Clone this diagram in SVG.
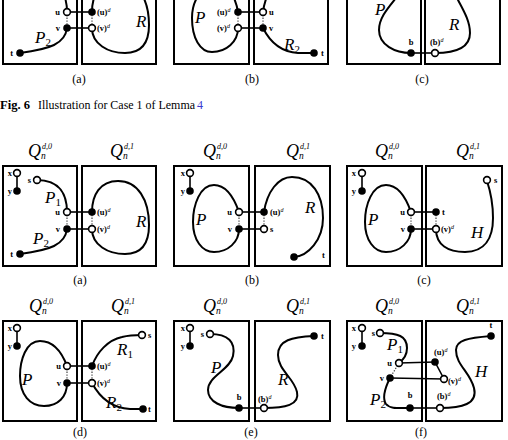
<svg xmlns="http://www.w3.org/2000/svg" width="508" height="440" viewBox="0 0 508 440">
<style>
.box{fill:none;stroke:#000;stroke-width:2}
.cv{fill:none;stroke:#000;stroke-width:2}
.ed{stroke:#000;stroke-width:1.6;fill:none}
.dt{stroke:#444;stroke-width:1.2;stroke-dasharray:1.4 1.4;fill:none}
.on{fill:#000}
.off{fill:#fff;stroke:#000;stroke-width:1.6}
.lb{font-family:"Liberation Serif",serif;font-weight:bold;font-size:8.5px;fill:#000}
.sp{font-family:"Liberation Serif",serif;font-style:italic;font-weight:normal;font-size:6px}
.big{font-family:"Liberation Serif",serif;font-style:italic;font-size:17px;fill:#000}
.sub{font-family:"Liberation Serif",serif;font-style:normal;font-size:11px}
.q{font-family:"Liberation Serif",serif;font-style:italic;font-size:18px;fill:#000}
.qs{font-family:"Liberation Serif",serif;font-style:italic;font-size:8px;fill:#000}
.qn{font-family:"Liberation Serif",serif;font-style:italic;font-size:9.5px;fill:#000}
.cap{font-family:"Liberation Serif",serif;font-size:12px;fill:#000;text-anchor:middle}
.fig{font-family:"Liberation Serif",serif;font-size:12px;fill:#000}
</style>
<defs>
<circle id="cOn" r="3.8" class="on"/>
<circle id="cOff" r="3.4" class="off"/>
</defs>

<!-- ===== Boxes ===== -->
<g id="boxes">
<rect class="box" x="3" y="-36" width="74" height="100"/>
<rect class="box" x="82" y="-36" width="74" height="100"/>
<rect class="box" x="174" y="-36" width="75" height="100"/>
<rect class="box" x="254" y="-36" width="74" height="100"/>
<rect class="box" x="347" y="-36" width="74" height="100"/>
<rect class="box" x="425" y="-36" width="75" height="100"/>

<rect class="box" x="3" y="166" width="74" height="100"/>
<rect class="box" x="82" y="166" width="74" height="100"/>
<rect class="box" x="174" y="166" width="75" height="100"/>
<rect class="box" x="255" y="166" width="75" height="100"/>
<rect class="box" x="347" y="166" width="75" height="100"/>
<rect class="box" x="426" y="166" width="76" height="100"/>

<rect class="box" x="3" y="321" width="74" height="100"/>
<rect class="box" x="82" y="321" width="74" height="100"/>
<rect class="box" x="174" y="321" width="75" height="100"/>
<rect class="box" x="255" y="321" width="75" height="100"/>
<rect class="box" x="347" y="321" width="75" height="100"/>
<rect class="box" x="426" y="321" width="76" height="100"/>
</g>

<!-- ===== Connectors ===== -->
<g id="connectors">
<!-- top (a) -->
<path class="cv" d="M37,-20 C60,-20 67,-5 67,12"/>
<path class="cv" d="M67,28 C65,44 50,49 20,53"/>
<path class="cv" d="M92,12 C92,-5 100,-20 118,-20 C138,-20 149,0 149,25 C149,45 140,53 125,53 C108,53 92,44 92,28"/>
<line class="ed" x1="67" y1="12" x2="92" y2="12"/>
<line class="ed" x1="67" y1="28" x2="92" y2="28"/>
<line class="dt" x1="67" y1="12" x2="67" y2="28"/>
<line class="dt" x1="92" y1="12" x2="92" y2="28"/>
<!-- top (b) -->
<path class="cv" d="M238,12 C236,0 230,-15 218,-15 C202,-15 192,0 192,18 C192,38 200,52 212,52 C226,52 238,42 238,28"/>
<path class="cv" d="M263,12 C264,4 266,-2 269,-8"/>
<path class="cv" d="M263,28 C270,42 282,52 298,53 L314,53"/>
<line class="ed" x1="238" y1="12" x2="263" y2="12"/>
<line class="ed" x1="238" y1="28" x2="263" y2="28"/>
<line class="dt" x1="238" y1="12" x2="238" y2="28"/>
<line class="dt" x1="263" y1="12" x2="263" y2="28"/>
<!-- top (c) -->
<path class="cv" d="M411,53 C395,53 379,45 379,30 C379,18 388,8 396,-2"/>
<path class="cv" d="M435,53 C455,53 470,48 470,33 C470,20 462,8 457,-2"/>
<line class="ed" x1="411" y1="53" x2="435" y2="53"/>

<!-- middle (a) -->
<line class="ed" x1="17" y1="173" x2="17" y2="191"/>
<path class="cv" d="M37,180 C60,180 67,195 67,212"/>
<path class="cv" d="M67,229 C65,245 50,250 20,254"/>
<path class="cv" d="M92,212 C92,195 100,181 118,181 C138,181 149,200 149,225 C149,245 140,254 125,254 C108,254 92,245 92,229"/>
<line class="ed" x1="67" y1="212" x2="92" y2="212"/>
<line class="ed" x1="67" y1="229" x2="92" y2="229"/>
<line class="dt" x1="67" y1="212" x2="67" y2="229"/>
<line class="dt" x1="92" y1="212" x2="92" y2="229"/>
<!-- middle (b) -->
<line class="ed" x1="190" y1="173" x2="190" y2="191"/>
<path class="cv" d="M239,212 C233,195 225,185 214,185 C200,185 193,205 193,222 C193,240 202,252 214,252 C228,252 239,242 239,229"/>
<path class="cv" d="M264,212 C267,192 278,177 292,177 C312,177 323,195 323,218 C323,240 308,256 294,257"/>
<line class="ed" x1="239" y1="212" x2="264" y2="212"/>
<line class="ed" x1="239" y1="229" x2="264" y2="229"/>
<line class="dt" x1="239" y1="212" x2="239" y2="229"/>
<line class="dt" x1="264" y1="212" x2="264" y2="229"/>
<!-- middle (c) -->
<line class="ed" x1="362" y1="173" x2="362" y2="191"/>
<path class="cv" d="M411,212 C405,195 397,185 386,185 C372,185 365,205 365,222 C365,240 374,252 386,252 C400,252 411,242 411,229"/>
<path class="cv" d="M436,229 C436,245 448,252 465,252 C485,252 493,238 493,218 C493,200 490,190 487,181"/>
<line class="ed" x1="411" y1="212" x2="436" y2="212"/>
<line class="ed" x1="411" y1="229" x2="436" y2="229"/>
<line class="dt" x1="411" y1="212" x2="411" y2="229"/>
<line class="dt" x1="436" y1="212" x2="436" y2="229"/>

<!-- bottom (d) -->
<line class="ed" x1="17" y1="328" x2="17" y2="346"/>
<path class="cv" d="M67,366 C61,350 52,341 40,341 C26,341 20,360 20,376 C20,395 30,406 44,406 C58,406 67,397 67,383"/>
<path class="cv" d="M92,366 C97,352 108,340 122,337 C130,335 136,335 142,335"/>
<path class="cv" d="M92,383 C100,398 112,408 130,409 L143,409"/>
<line class="ed" x1="67" y1="366" x2="92" y2="366"/>
<line class="ed" x1="67" y1="383" x2="92" y2="383"/>
<line class="dt" x1="67" y1="366" x2="67" y2="383"/>
<line class="dt" x1="92" y1="366" x2="92" y2="383"/>
<!-- bottom (e) -->
<line class="ed" x1="190" y1="328" x2="190" y2="346"/>
<path class="cv" d="M210,334 C228,334 236,342 233,356 C230,370 208,376 208,390 C208,402 222,408 239,408"/>
<path class="cv" d="M264,408 C285,408 300,405 297,392 C294,378 278,370 278,355 C278,340 292,337 314,336"/>
<line class="ed" x1="239" y1="408" x2="264" y2="408"/>
<!-- bottom (f) -->
<line class="ed" x1="362" y1="328" x2="362" y2="346"/>
<path class="cv" d="M380,333 C398,333 407,336 407,348 C407,355 403,360 399,363"/>
<path class="cv" d="M390,378 C385,388 382,398 386,404 C390,409 398,408 410,408"/>
<path class="cv" d="M440,408 C462,408 478,404 474,388 C470,372 456,365 456,350 C456,340 468,338 491,336"/>
<line class="ed" x1="399" y1="363" x2="435" y2="362"/>
<line class="ed" x1="435" y1="362" x2="444" y2="379"/>
<line class="ed" x1="390" y1="378" x2="444" y2="379"/>
<line class="ed" x1="410" y1="408" x2="440" y2="408"/>
<line class="dt" x1="399" y1="363" x2="390" y2="378"/>
</g>

<!-- ===== Nodes: top row ===== -->
<g id="ta-u"><use href="#cOff" x="67" y="12"/><text class="lb" x="60" y="15" text-anchor="end">u</text></g>
<g id="ta-v"><use href="#cOn" x="67" y="28"/><text class="lb" x="60" y="31" text-anchor="end">v</text></g>
<g id="ta-ud"><use href="#cOn" x="92" y="12"/><text class="lb" x="97" y="15">(u)<tspan class="sp" dy="-3">d</tspan></text></g>
<g id="ta-vd"><use href="#cOff" x="92" y="28"/><text class="lb" x="97" y="31">(v)<tspan class="sp" dy="-3">d</tspan></text></g>
<g id="ta-t"><use href="#cOn" x="20" y="53"/><text class="lb" x="13" y="56" text-anchor="end">t</text></g>

<g id="tb-ud"><use href="#cOn" x="238" y="12"/><text class="lb" x="217" y="15">(u)<tspan class="sp" dy="-3">d</tspan></text></g>
<g id="tb-vd"><use href="#cOff" x="238" y="28"/><text class="lb" x="217" y="31">(v)<tspan class="sp" dy="-3">d</tspan></text></g>
<g id="tb-u"><use href="#cOff" x="263" y="12"/><text class="lb" x="269" y="15">u</text></g>
<g id="tb-v"><use href="#cOn" x="263" y="28"/><text class="lb" x="269" y="31">v</text></g>
<g id="tb-t"><use href="#cOn" x="314" y="53"/><text class="lb" x="321" y="56">t</text></g>

<g id="tc-b"><use href="#cOn" x="411" y="53"/><text class="lb" x="411" y="45" text-anchor="middle">b</text></g>
<g id="tc-bd"><use href="#cOff" x="435" y="53"/><text class="lb" x="430" y="45">(b)<tspan class="sp" dy="-3">d</tspan></text></g>

<!-- ===== Nodes: middle (a) ===== -->
<g id="ma-x"><use href="#cOff" x="17" y="173"/><text class="lb" x="12" y="176" text-anchor="end">x</text></g>
<g id="ma-y"><use href="#cOn" x="17" y="191"/><text class="lb" x="12" y="194" text-anchor="end">y</text></g>
<g id="ma-s"><use href="#cOff" x="37" y="180"/><text class="lb" x="31" y="183" text-anchor="end">s</text></g>
<g id="ma-u"><use href="#cOff" x="67" y="212"/><text class="lb" x="60" y="215" text-anchor="end">u</text></g>
<g id="ma-v"><use href="#cOn" x="67" y="229"/><text class="lb" x="60" y="232" text-anchor="end">v</text></g>
<g id="ma-ud"><use href="#cOn" x="92" y="212"/><text class="lb" x="97" y="215">(u)<tspan class="sp" dy="-3">d</tspan></text></g>
<g id="ma-vd"><use href="#cOff" x="92" y="229"/><text class="lb" x="97" y="232">(v)<tspan class="sp" dy="-3">d</tspan></text></g>
<g id="ma-t"><use href="#cOn" x="20" y="254"/><text class="lb" x="13" y="257" text-anchor="end">t</text></g>

<!-- middle (b) -->
<g id="mb-x"><use href="#cOff" x="190" y="173"/><text class="lb" x="185" y="176" text-anchor="end">x</text></g>
<g id="mb-y"><use href="#cOn" x="190" y="191"/><text class="lb" x="185" y="194" text-anchor="end">y</text></g>
<g id="mb-u"><use href="#cOff" x="239" y="212"/><text class="lb" x="232" y="215" text-anchor="end">u</text></g>
<g id="mb-v"><use href="#cOn" x="239" y="229"/><text class="lb" x="232" y="232" text-anchor="end">v</text></g>
<g id="mb-ud"><use href="#cOn" x="264" y="212"/><text class="lb" x="270" y="215">(u)<tspan class="sp" dy="-3">d</tspan></text></g>
<g id="mb-s"><use href="#cOff" x="264" y="229"/><text class="lb" x="270" y="232">s</text></g>
<g id="mb-t"><use href="#cOn" x="294" y="257"/><text class="lb" x="322" y="258">t</text></g>

<!-- middle (c) -->
<g id="mc-x"><use href="#cOff" x="362" y="173"/><text class="lb" x="356" y="176" text-anchor="end">x</text></g>
<g id="mc-y"><use href="#cOn" x="362" y="191"/><text class="lb" x="356" y="194" text-anchor="end">y</text></g>
<g id="mc-u"><use href="#cOff" x="411" y="212"/><text class="lb" x="405" y="215" text-anchor="end">u</text></g>
<g id="mc-v"><use href="#cOn" x="411" y="229"/><text class="lb" x="405" y="232" text-anchor="end">v</text></g>
<g id="mc-t"><use href="#cOn" x="436" y="212"/><text class="lb" x="442" y="215">t</text></g>
<g id="mc-vd"><use href="#cOff" x="436" y="229"/><text class="lb" x="441" y="232">(v)<tspan class="sp" dy="-3">d</tspan></text></g>
<g id="mc-s"><use href="#cOff" x="487" y="180"/><text class="lb" x="494" y="183">s</text></g>

<!-- bottom (d) -->
<g id="bd-x"><use href="#cOff" x="17" y="328"/><text class="lb" x="12" y="331" text-anchor="end">x</text></g>
<g id="bd-y"><use href="#cOn" x="17" y="346"/><text class="lb" x="12" y="349" text-anchor="end">y</text></g>
<g id="bd-u"><use href="#cOff" x="67" y="366"/><text class="lb" x="61" y="369" text-anchor="end">u</text></g>
<g id="bd-v"><use href="#cOn" x="67" y="383"/><text class="lb" x="61" y="386" text-anchor="end">v</text></g>
<g id="bd-ud"><use href="#cOn" x="92" y="366"/><text class="lb" x="97" y="369">(u)<tspan class="sp" dy="-3">d</tspan></text></g>
<g id="bd-vd"><use href="#cOff" x="92" y="383"/><text class="lb" x="97" y="386">(v)<tspan class="sp" dy="-3">d</tspan></text></g>
<g id="bd-s"><use href="#cOff" x="142" y="335"/><text class="lb" x="148" y="338">s</text></g>
<g id="bd-t"><use href="#cOn" x="143" y="409"/><text class="lb" x="148" y="412">t</text></g>

<!-- bottom (e) -->
<g id="be-x"><use href="#cOff" x="190" y="328"/><text class="lb" x="185" y="331" text-anchor="end">x</text></g>
<g id="be-y"><use href="#cOn" x="190" y="346"/><text class="lb" x="185" y="349" text-anchor="end">y</text></g>
<g id="be-s"><use href="#cOff" x="210" y="334"/><text class="lb" x="204" y="337" text-anchor="end">s</text></g>
<g id="be-b"><use href="#cOn" x="239" y="408"/><text class="lb" x="239" y="400" text-anchor="middle">b</text></g>
<g id="be-bd"><use href="#cOff" x="264" y="408"/><text class="lb" x="258" y="402">(b)<tspan class="sp" dy="-3">d</tspan></text></g>
<g id="be-t"><use href="#cOn" x="314" y="336"/><text class="lb" x="321" y="339">t</text></g>

<!-- bottom (f) -->
<g id="bf-x"><use href="#cOff" x="362" y="328"/><text class="lb" x="356" y="331" text-anchor="end">x</text></g>
<g id="bf-y"><use href="#cOn" x="362" y="346"/><text class="lb" x="356" y="349" text-anchor="end">y</text></g>
<g id="bf-s"><use href="#cOff" x="380" y="333"/><text class="lb" x="375" y="336" text-anchor="end">s</text></g>
<g id="bf-u"><use href="#cOff" x="399" y="363"/><text class="lb" x="392" y="366" text-anchor="end">u</text></g>
<g id="bf-v"><use href="#cOn" x="390" y="378"/><text class="lb" x="384" y="381" text-anchor="end">v</text></g>
<g id="bf-b"><use href="#cOn" x="410" y="408"/><text class="lb" x="410" y="398" text-anchor="middle">b</text></g>
<g id="bf-ud"><use href="#cOn" x="435" y="362"/><text class="lb" x="434" y="355">(u)<tspan class="sp" dy="-3">d</tspan></text></g>
<g id="bf-vd"><use href="#cOff" x="444" y="379"/><text class="lb" x="448" y="384">(v)<tspan class="sp" dy="-3">d</tspan></text></g>
<g id="bf-bd"><use href="#cOff" x="440" y="408"/><text class="lb" x="437" y="399">(b)<tspan class="sp" dy="-3">d</tspan></text></g>
<g id="bf-t"><use href="#cOn" x="491" y="336"/><text class="lb" x="491" y="328" text-anchor="middle">t</text></g>

<!-- ===== Path labels ===== -->
<g id="pathlabels">
<text class="big" x="35" y="43">P<tspan class="sub" dy="3">2</tspan></text>
<text class="big" x="136" y="27">R</text>
<text class="big" x="195" y="23">P</text>
<text class="big" x="284" y="50">R<tspan class="sub" dy="3">2</tspan></text>
<text class="big" x="375" y="15">P</text>
<text class="big" x="449" y="30">R</text>

<text class="big" x="45" y="203">P<tspan class="sub" dy="3">1</tspan></text>
<text class="big" x="33" y="244">P<tspan class="sub" dy="3">2</tspan></text>
<text class="big" x="136" y="227">R</text>
<text class="big" x="196" y="225">P</text>
<text class="big" x="305" y="213">R</text>
<text class="big" x="368" y="225">P</text>
<text class="big" x="471" y="238">H</text>

<text class="big" x="22" y="385">P</text>
<text class="big" x="117" y="355">R<tspan class="sub" dy="3">1</tspan></text>
<text class="big" x="106" y="408">R<tspan class="sub" dy="3">2</tspan></text>
<text class="big" x="211" y="373">P</text>
<text class="big" x="278" y="385">R</text>
<text class="big" x="387" y="350">P<tspan class="sub" dy="3">1</tspan></text>
<text class="big" x="370" y="405">P<tspan class="sub" dy="3">2</tspan></text>
<text class="big" x="475" y="377">H</text>
</g>

<!-- ===== Subcube labels ===== -->
<g id="qlabels">
<text class="q" x="28" y="157">Q</text><text class="qs" x="42" y="149">d,0</text><text class="qn" x="41" y="159">n</text>
<text class="q" x="110" y="157">Q</text><text class="qs" x="124" y="149">d,1</text><text class="qn" x="123" y="159">n</text>
<text class="q" x="203" y="157">Q</text><text class="qs" x="217" y="149">d,0</text><text class="qn" x="216" y="159">n</text>
<text class="q" x="286" y="157">Q</text><text class="qs" x="300" y="149">d,1</text><text class="qn" x="299" y="159">n</text>
<text class="q" x="375" y="157">Q</text><text class="qs" x="389" y="149">d,0</text><text class="qn" x="388" y="159">n</text>
<text class="q" x="456" y="157">Q</text><text class="qs" x="470" y="149">d,1</text><text class="qn" x="469" y="159">n</text>

<text class="q" x="29" y="312">Q</text><text class="qs" x="43" y="304">d,0</text><text class="qn" x="42" y="314">n</text>
<text class="q" x="111" y="312">Q</text><text class="qs" x="125" y="304">d,1</text><text class="qn" x="124" y="314">n</text>
<text class="q" x="203" y="312">Q</text><text class="qs" x="217" y="304">d,0</text><text class="qn" x="216" y="314">n</text>
<text class="q" x="286" y="312">Q</text><text class="qs" x="300" y="304">d,1</text><text class="qn" x="299" y="314">n</text>
<text class="q" x="375" y="312">Q</text><text class="qs" x="389" y="304">d,0</text><text class="qn" x="388" y="314">n</text>
<text class="q" x="456" y="312">Q</text><text class="qs" x="470" y="304">d,1</text><text class="qn" x="469" y="314">n</text>
</g>

<!-- ===== Captions ===== -->
<g id="captions">
<text class="cap" x="79" y="83">(a)</text>
<text class="cap" x="252" y="83">(b)</text>
<text class="cap" x="422" y="83">(c)</text>
<text class="fig" y="109"><tspan x="0" font-weight="bold" textLength="30" lengthAdjust="spacingAndGlyphs">Fig. 6</tspan><tspan x="38" textLength="157" lengthAdjust="spacingAndGlyphs">Illustration for Case 1 of Lemma</tspan><tspan x="197" fill="#3b3bd0">4</tspan></text>
<text class="cap" x="80" y="284">(a)</text>
<text class="cap" x="252" y="284">(b)</text>
<text class="cap" x="424" y="284">(c)</text>
<text class="cap" x="80" y="436">(d)</text>
<text class="cap" x="251" y="436">(e)</text>
<text class="cap" x="421" y="436">(f)</text>
</g>
</svg>
